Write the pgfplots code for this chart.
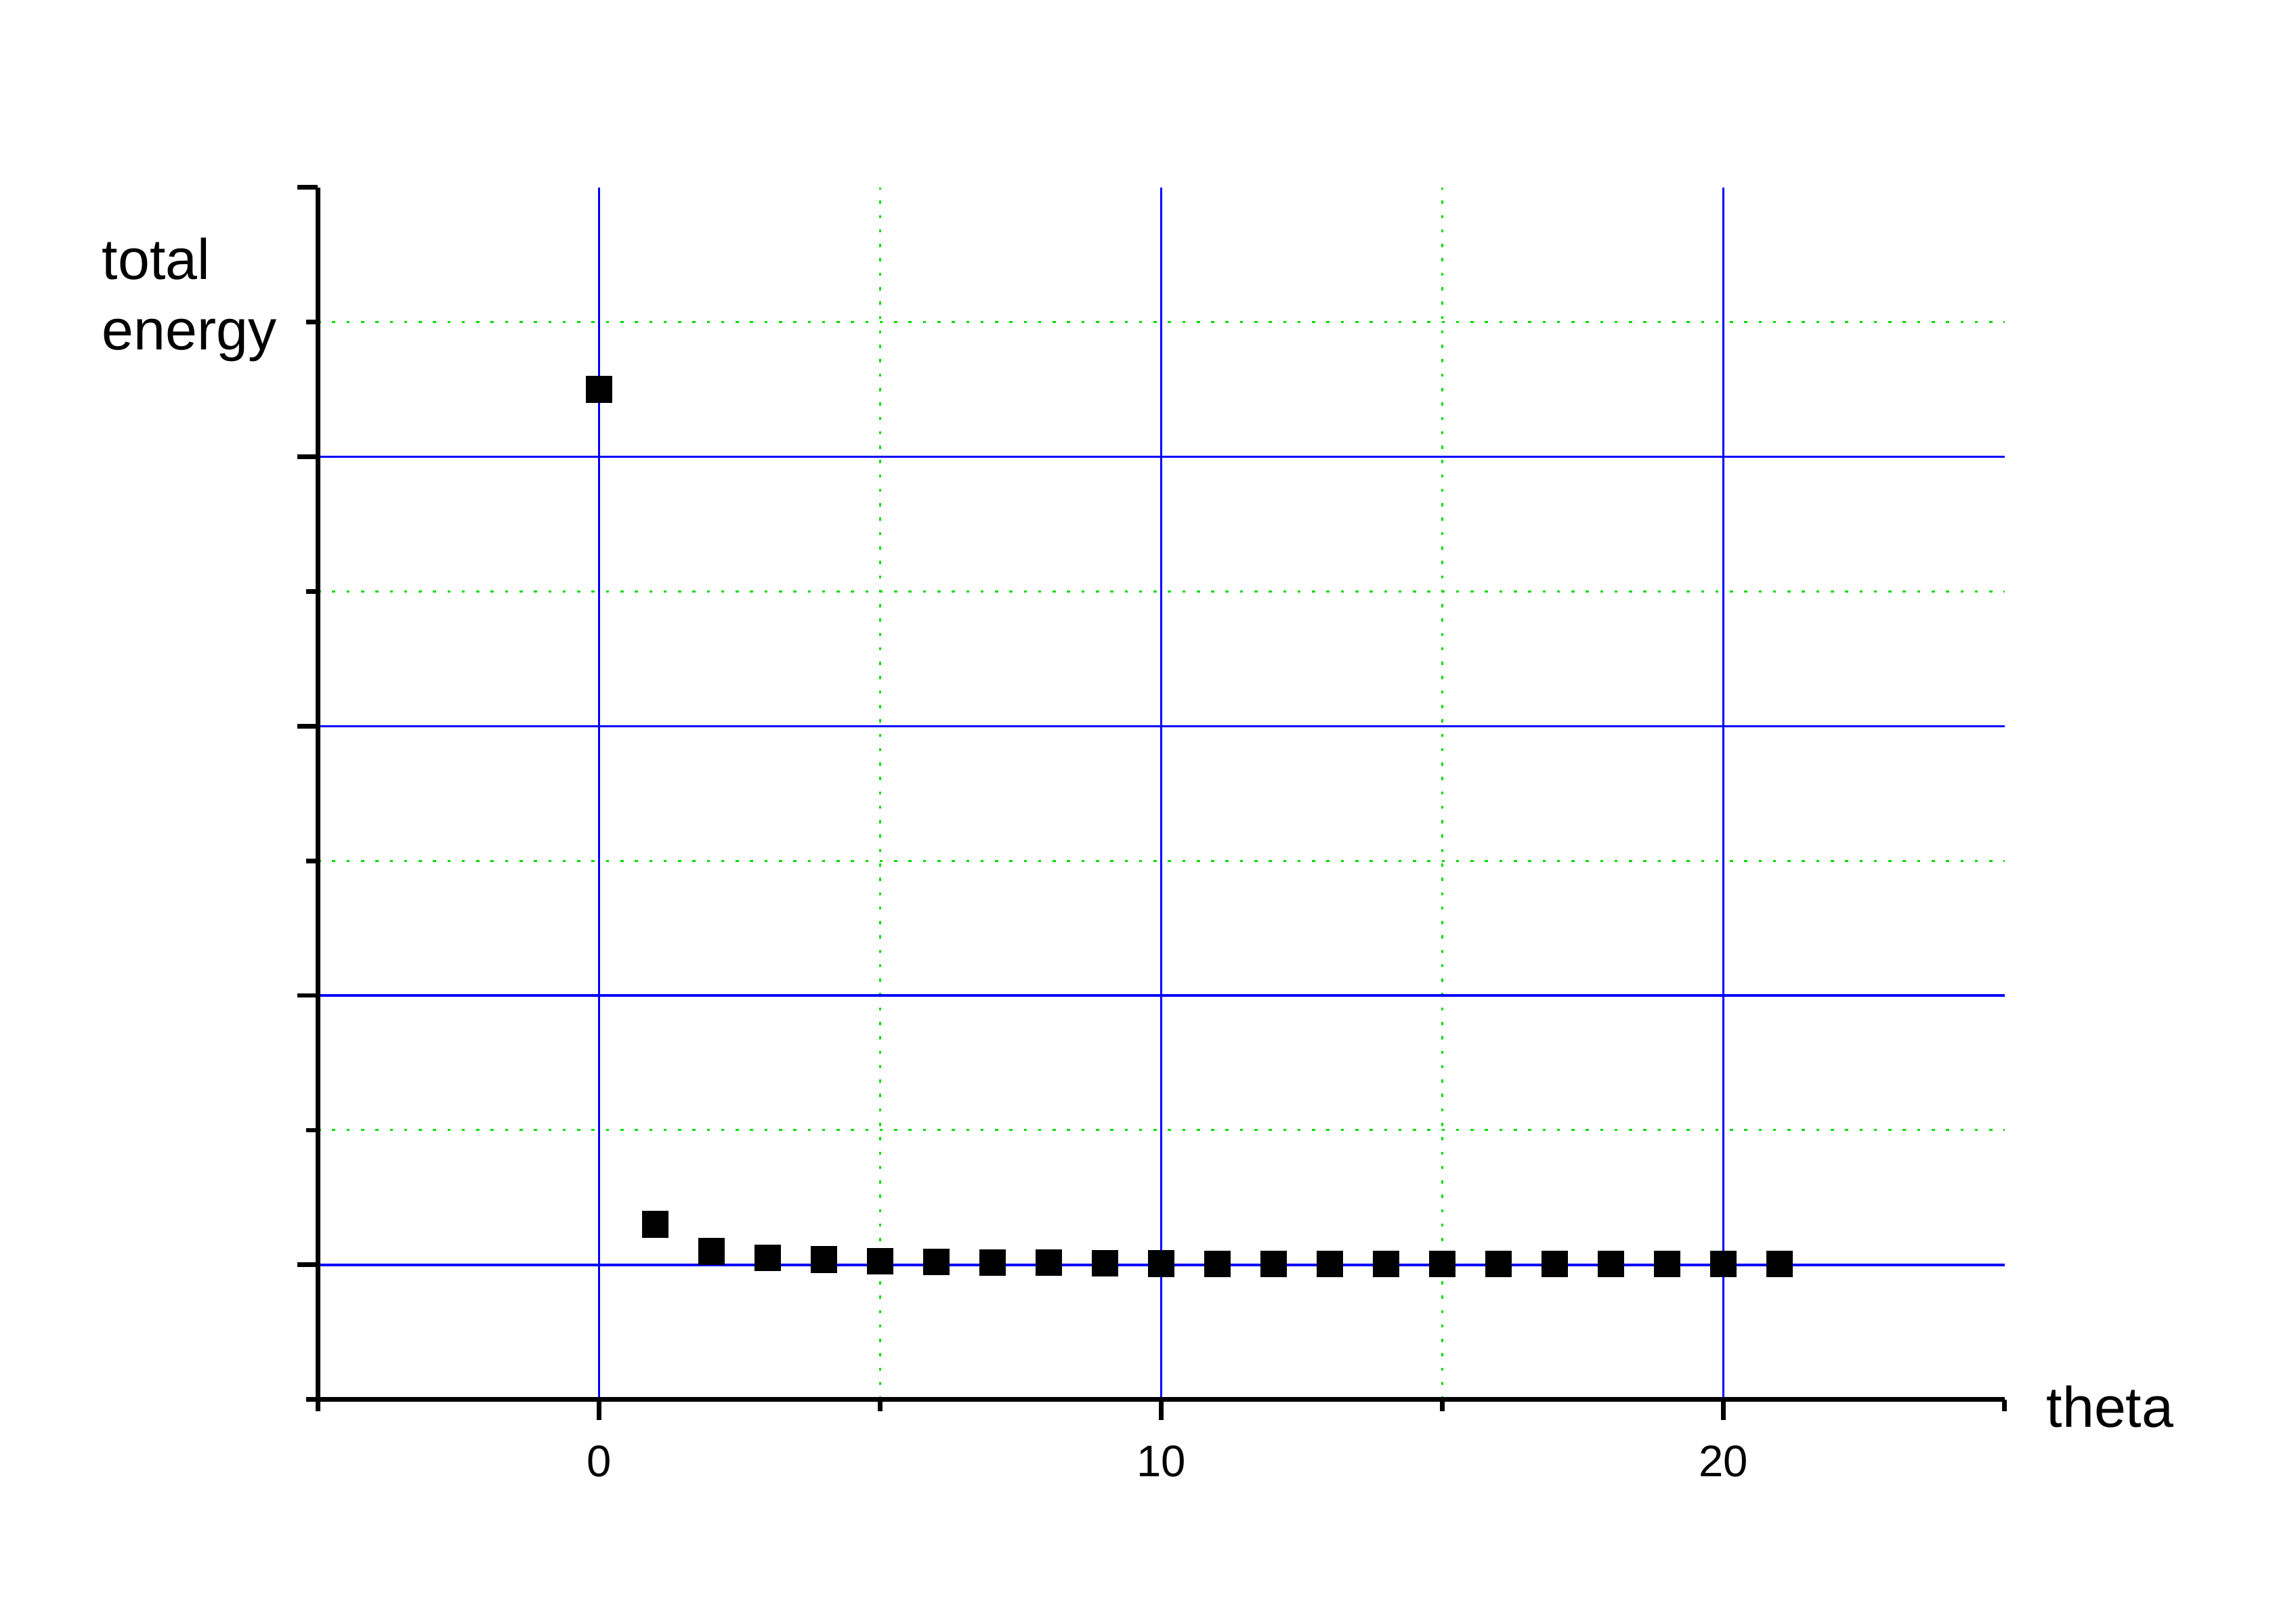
\documentclass[border=0pt]{standalone}
\usepackage{fontspec}
\setmainfont{Liberation Sans}
\usepackage{pgfplots}
\pgfplotsset{compat=1.18}
\definecolor{gridblue}{RGB}{0,0,255}
\definecolor{gridgreen}{RGB}{0,220,0}
\begin{document}
\begin{tikzpicture}
\begin{axis}[
  scale only axis,
  width=11.52cm, height=8.28cm,
  xmin=-5, xmax=25, ymin=-0.5, ymax=4,
  axis lines=left,
  axis line style={-, line width=0.9pt, black},
  tick align=outside,
  major tick length=0.14cm, minor tick length=0.08cm,
  every tick/.style={black, line width=0.9pt},
  xtick={0,10,20}, minor xtick={-5,5,15},
  extra x ticks={25}, extra x tick labels={},
  extra x tick style={grid=none, major tick length=0.08cm},
  ytick={0,1,2,3}, yticklabels={},
  minor ytick={-0.5,0.5,1.5,2.5,3.5},
  extra y ticks={4}, extra y tick labels={},
  extra y tick style={grid=none},
  grid=both,
  major grid style={gridblue, line width=0.45pt},
  minor grid style={gridgreen, line width=0.4pt, dash pattern=on 0.6pt off 2.2pt},
  /pgf/number format/assume math mode=true,
  xticklabel style={font=\fontsize{8.6}{10}\selectfont, yshift=-0.05cm},
  clip=false,
]
% total energy vs theta
\addplot[only marks, mark=square*, mark size=2.4pt, black] coordinates {
  (0,3.25) (1,0.15) (2,0.05) (3,0.026) (4,0.02) (5,0.014) (6,0.011)
  (7,0.009) (8,0.008) (9,0.006) (10,0.005) (11,0.004) (12,0.004)
  (13,0.004) (14,0.003) (15,0.003) (16,0.003) (17,0.003) (18,0.003)
  (19,0.003) (20,0.003) (21,0.003)
};
\node[anchor=base west, inner sep=0pt, font=\fontsize{11.1}{13}\selectfont]
  at (rel axis cs:-0.1285,0.9239) {total};
\node[anchor=base west, inner sep=0pt, font=\fontsize{11.1}{13}\selectfont]
  at (rel axis cs:-0.1285,0.8659) {energy};
\node[anchor=base west, inner sep=0pt, font=\fontsize{11.1}{13}\selectfont]
  at (rel axis cs:1.0243,-0.0229) {theta};
\path (rel axis cs:-0.1884,-0.1739) rectangle (rel axis cs:1.1728,1.1546);
\end{axis}
\end{tikzpicture}
\end{document}
